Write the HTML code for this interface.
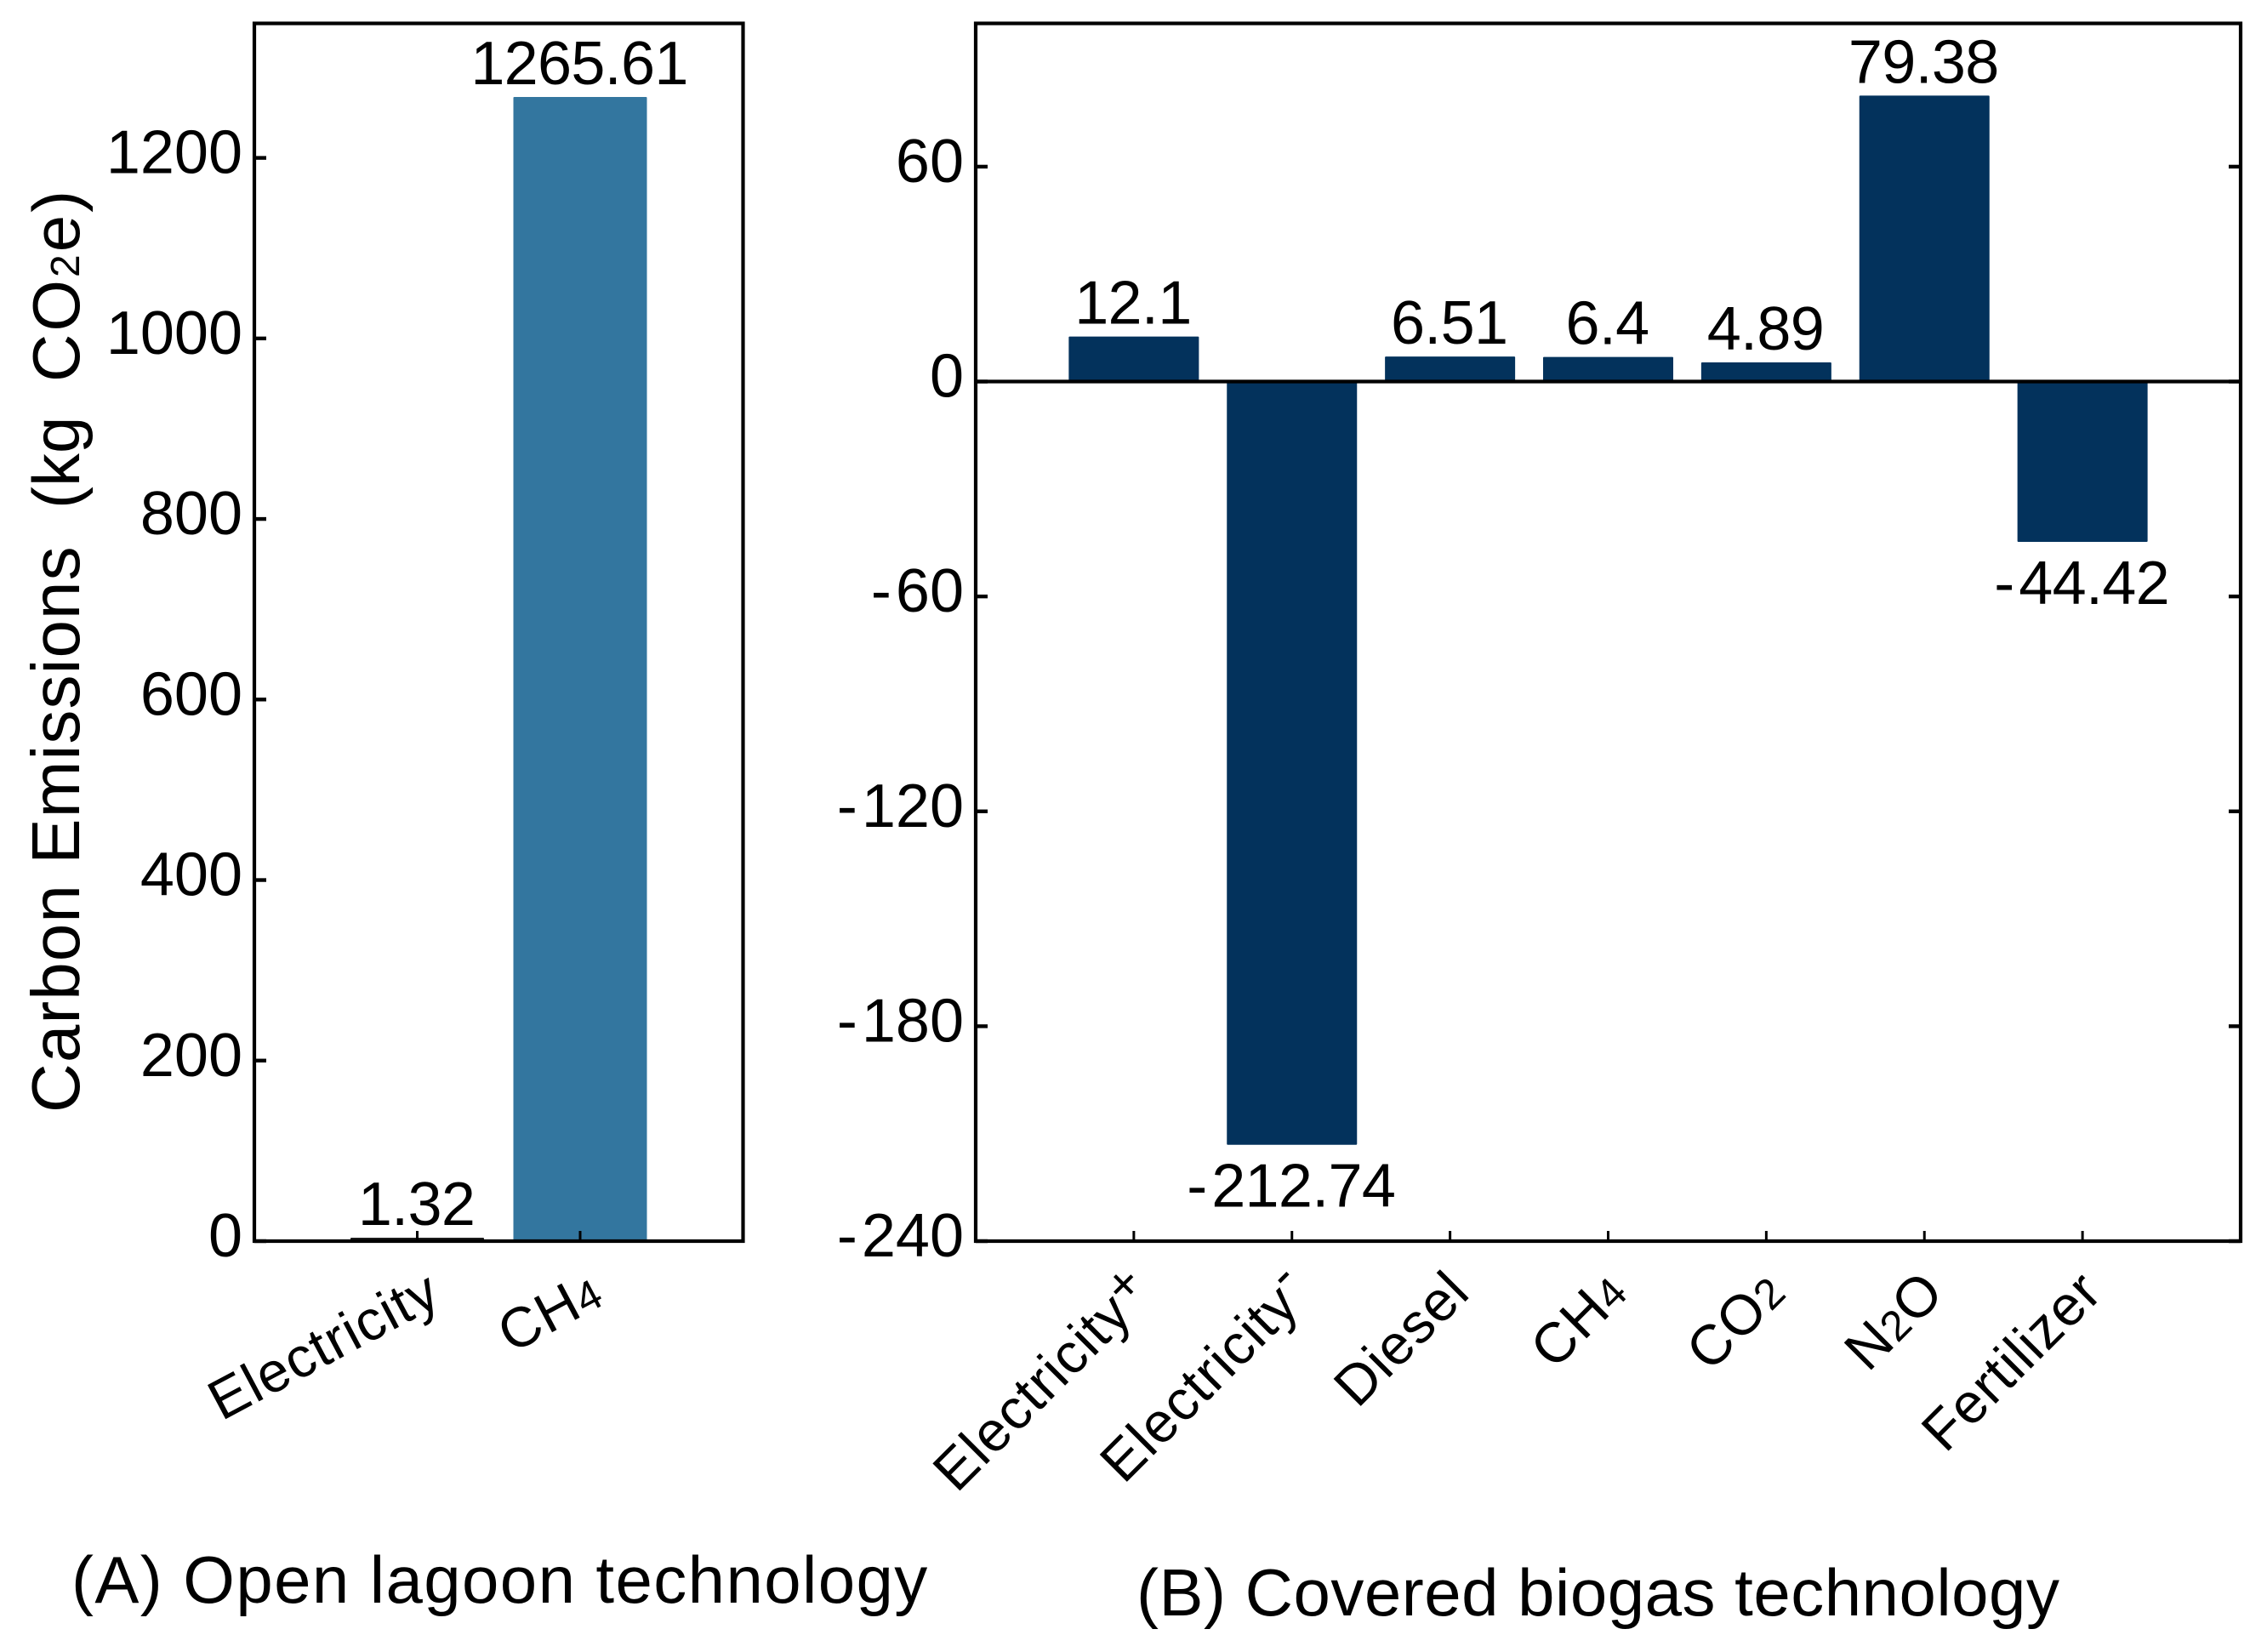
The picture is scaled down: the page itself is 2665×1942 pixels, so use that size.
<!DOCTYPE html>
<html lang="en">
<head>
<meta charset="utf-8">
<title>Carbon emissions by technology</title>
<style>
  html, body { margin: 0; padding: 0; background: #fff; }
  svg { display: block; }
  text { font-family: "Liberation Sans", "Noto Sans CJK SC", sans-serif; fill: #000; }
  .tick-label { font-size: 72px; letter-spacing: 0; }
  .value-label { font-size: 72px; letter-spacing: -0.7px; text-anchor: middle; }
  .cat-label { font-size: 66px; letter-spacing: 1.2px; text-anchor: end; }
  .caption { font-size: 78px; letter-spacing: 1.4px; }
  .y-title { font-size: 80px; letter-spacing: 1.1px; }
  .hy { letter-spacing: 5px; }
</style>
</head>
<body>
<svg id="chart" xmlns="http://www.w3.org/2000/svg" width="2665" height="1942" viewBox="0 0 2665 1942">
  <rect x="0" y="0" width="2665" height="1942" fill="#fff"/>
  <g id="panel-a"></g>
  <g id="panel-b"></g>
  <text class="y-title" transform="translate(93 1308) rotate(-90)">Carbon Emissions <tspan x="710" font-size="78" letter-spacing="0">(kg </tspan><tspan x="859" font-size="78" letter-spacing="3">CO<tspan font-size="48">2</tspan>e)</tspan></text>
  <text class="caption" x="84" y="1884">(A) Open lagoon technology</text>
  <text class="caption" x="1336" y="1899" style="letter-spacing:0.5px">(B) Covered biogas technology</text>
</svg>
<script>
var categoriesA = ['Electricity', 'CH4'];
var valuesA = [1.32, 1265.61];
var yTicksA = [0, 200, 400, 600, 800, 1000, 1200];

var categoriesB = ['Electricity+', 'Electricity-', 'Diesel', 'CH4', 'CO2', 'N2O', 'Fertilizer'];
var valuesB = [12.1, -212.74, 6.51, 6.4, 4.89, 79.38, -44.42];
var yTicksB = [-240, -180, -120, -60, 0, 60];

var SVG_NS = 'http://www.w3.org/2000/svg';

function make(tag, attrs, parent) {
  var el = document.createElementNS(SVG_NS, tag);
  for (var k in attrs) { el.setAttribute(k, attrs[k]); }
  parent.appendChild(el);
  return el;
}

function linear(d0, d1, r0, r1) {
  return function (v) { return r0 + (v - d0) * (r1 - r0) / (d1 - d0); };
}

function fillNumber(el, v) {
  var s = String(v);
  if (s.charAt(0) === '-') {
    var hy = make('tspan', { class: 'hy' }, el);
    hy.textContent = '-';
    s = s.slice(1);
  }
  el.appendChild(document.createTextNode(s));
}

function fillCategory(el, label, size) {
  var m = label.match(/^([^+\-\d]*)(\d?)([^+\-]*)([+\-]?)$/);
  el.appendChild(document.createTextNode(m[1]));
  if (m[2]) {
    var sub = make('tspan', { 'font-size': Math.round(size * 0.75) }, el);
    sub.textContent = m[2];
  }
  if (m[3]) { el.appendChild(document.createTextNode(m[3])); }
  if (m[4]) {
    var sup = make('tspan', { 'font-size': Math.round(size * 0.9), dy: m[4] === '+' ? -16 : -24 }, el);
    sup.textContent = m[4];
  }
}

function drawPanel(cfg) {
  var g = document.getElementById(cfg.id);
  var x = linear(-1, cfg.xMax, cfg.left, cfg.right);
  var y = linear(cfg.yMin, cfg.yMax, cfg.bottom, cfg.top);
  var y0 = y(0);

  cfg.values.forEach(function (v, i) {
    var cx = x(i);
    var top = v >= 0 ? y(v) - 2 : y0;
    var bot = v < 0 ? y(v) + 1.5 : y0;
    var thin = bot - top < 4;
    if (thin) { top = y0 - 4; bot = y0; }
    var bar = make('rect', {
      x: cx - cfg.barWidth / 2, y: top, width: cfg.barWidth, height: bot - top, rx: 1,
      fill: thin ? '#1c1c1c' : cfg.color
    }, g);
    
    

    var vl = make('text', {
      class: 'value-label',
      x: cx - 1,
      y: v >= 0 ? top - 15 : bot + 73
    }, g);
    fillNumber(vl, v);
    
    

    var tick = make('rect', { x: cx - 1.5, y: cfg.bottom - 12, width: 3, height: 12, fill: '#000' }, g);
    
    

    var ex = cx + cfg.labelDx;
    var ey = cfg.labelY;
    var cat = make('text', {
      class: 'cat-label',
      transform: 'translate(' + ex + ' ' + ey + ') rotate(' + cfg.labelAngle + ')'
    }, g);
    fillCategory(cat, cfg.categories[i], 66);
    
    
  });

  cfg.yTicks.forEach(function (t) {
    var ty = y(t);
    var tl = make('rect', { x: cfg.left, y: ty - 2.2, width: 14, height: 4.4, fill: '#000' }, g);
    
    
    if (cfg.rightTicks) {
      var tr = make('rect', { x: cfg.right - 14, y: ty - 2.2, width: 14, height: 4.4, fill: '#000' }, g);
      
      
    }
    var lab = make('text', {
      class: 'tick-label',
      x: cfg.left - 14,
      y: ty + 18,
      'text-anchor': 'end'
    }, g);
    fillNumber(lab, t);
    
    
  });

  if (cfg.zeroLine) {
    var z = make('line', { x1: cfg.left, x2: cfg.right, y1: y0, y2: y0, stroke: '#000', 'stroke-width': 4.2 }, g);
    
    
  }

  var frame = make('rect', {
    x: cfg.left, y: cfg.top, width: cfg.right - cfg.left, height: cfg.bottom - cfg.top,
    fill: 'none', stroke: '#000', 'stroke-width': 4.2
  }, g);
  
  
}

drawPanel({
  id: 'panel-a', categories: categoriesA, values: valuesA, yTicks: yTicksA,
  left: 299, right: 873.5, top: 27.5, bottom: 1459,
  xMax: 2, yMin: 0, yMax: 1349, barWidth: 157, color: '#33769f',
  labelDx: 31, labelY: 1532, labelAngle: -28, rightTicks: false, zeroLine: false
});

drawPanel({
  id: 'panel-b', categories: categoriesB, values: valuesB, yTicks: yTicksB,
  left: 1147, right: 2634, top: 27.5, bottom: 1459,
  xMax: 7, yMin: -240, yMax: 100, barWidth: 153, color: '#03325c',
  labelDx: 26, labelY: 1522, labelAngle: -45, rightTicks: true, zeroLine: true
});
</script>
</body>
</html>
